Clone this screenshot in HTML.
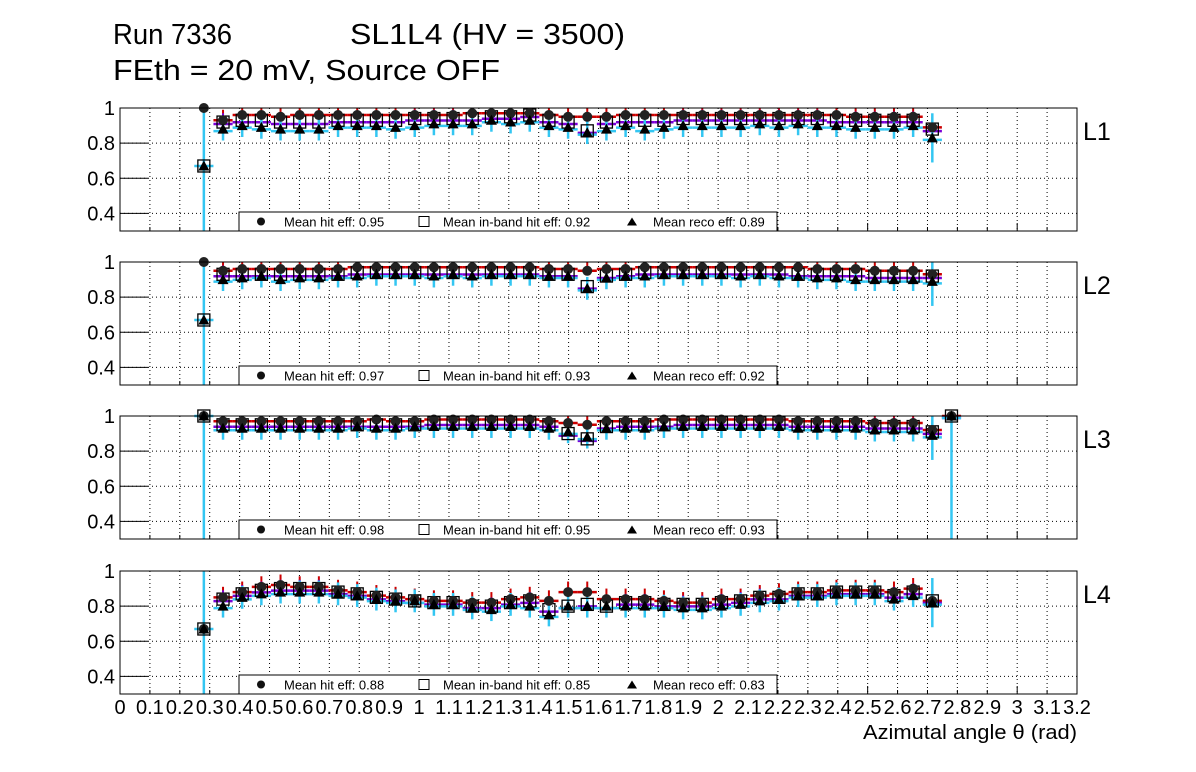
<!DOCTYPE html>
<html><head><meta charset="utf-8"><style>
body{margin:0;background:#fff;}
svg{display:block;font-family:"Liberation Sans",sans-serif;}
</style></head><body>
<svg id="c" width="1196" height="772" xmlns="http://www.w3.org/2000/svg">
<text x="113" y="44" font-size="29" textLength="119" lengthAdjust="spacingAndGlyphs">Run 7336</text>
<text x="350" y="44" font-size="29" textLength="275" lengthAdjust="spacingAndGlyphs">SL1L4 (HV = 3500)</text>
<text x="113" y="80" font-size="29" textLength="387" lengthAdjust="spacingAndGlyphs">FEth = 20 mV, Source OFF</text>
<text x="863" y="739" font-size="20" textLength="214" lengthAdjust="spacingAndGlyphs">Azimutal angle θ (rad)</text>
</svg>
<script>
const layers=["L1","L2","L3","L4"];
const meanHit=["0.95","0.97","0.98","0.88"];
const meanInband=["0.92","0.93","0.95","0.85"];
const meanReco=["0.89","0.92","0.93","0.83"];
const binStart=0.2804, binWidth=0.0641;
const hitL1=[1.0,.93,.96,.96,.95,.96,.96,.96,.96,.96,.96,.96,.96,.96,.97,.97,.97,.97,.96,.95,.95,.95,.96,.96,.96,.96,.96,.96,.96,.96,.96,.96,.96,.96,.95,.95,.95,.95,.89];
const inbL1=[.67,.92,.93,.93,.92,.92,.92,.93,.93,.93,.93,.94,.94,.94,.94,.95,.95,.96,.93,.92,.87,.92,.93,.93,.93,.94,.94,.94,.94,.94,.94,.94,.94,.93,.93,.93,.93,.93,.88];
const recL1=[.67,.88,.90,.89,.88,.88,.88,.90,.90,.90,.89,.90,.91,.91,.91,.93,.92,.93,.90,.89,.86,.88,.90,.88,.89,.90,.90,.90,.90,.91,.90,.91,.90,.90,.89,.89,.89,.90,.83];
const hitL2=[1.0,.95,.96,.96,.96,.96,.96,.96,.97,.97,.97,.97,.97,.97,.97,.97,.97,.97,.96,.96,.95,.96,.96,.97,.97,.97,.97,.97,.97,.97,.97,.97,.96,.96,.96,.95,.95,.95,.93];
const inbL2=[.67,.93,.93,.93,.93,.93,.93,.93,.94,.94,.94,.94,.94,.94,.94,.94,.94,.94,.93,.93,.86,.92,.93,.94,.94,.94,.94,.94,.94,.94,.94,.93,.93,.93,.93,.92,.92,.92,.92];
const recL2=[.67,.90,.91,.92,.90,.91,.91,.92,.92,.93,.93,.93,.92,.93,.92,.93,.93,.93,.92,.92,.85,.91,.92,.92,.93,.93,.93,.93,.92,.93,.92,.92,.91,.91,.90,.90,.90,.90,.89];
const hitL3=[1.0,.97,.97,.97,.97,.97,.97,.97,.97,.98,.97,.97,.98,.98,.98,.98,.98,.98,.97,.96,.95,.97,.97,.97,.98,.98,.98,.98,.98,.98,.98,.97,.97,.97,.97,.96,.96,.96,.92,1.0];
const inbL3=[1.0,.95,.95,.95,.95,.95,.95,.95,.95,.95,.95,.95,.96,.96,.96,.96,.96,.96,.95,.90,.87,.94,.95,.95,.95,.96,.96,.96,.96,.96,.96,.95,.95,.95,.95,.94,.94,.94,.91,1.0];
const recL3=[1.0,.93,.93,.93,.93,.93,.93,.93,.94,.93,.93,.94,.94,.94,.94,.94,.94,.94,.93,.91,.88,.93,.93,.93,.94,.94,.94,.94,.94,.94,.94,.93,.93,.93,.93,.92,.92,.92,.89,1.0];
const hitL4=[.67,.85,.88,.91,.92,.91,.91,.89,.88,.86,.85,.84,.83,.83,.82,.82,.84,.85,.83,.88,.88,.84,.84,.84,.83,.82,.82,.84,.84,.86,.87,.88,.88,.89,.89,.89,.88,.90,.83];
const inbL4=[.67,.84,.87,.89,.90,.90,.90,.88,.87,.85,.84,.83,.82,.82,.80,.80,.82,.83,.78,.80,.81,.80,.82,.82,.81,.81,.81,.82,.83,.85,.85,.87,.87,.88,.88,.88,.86,.88,.83];
const recL4=[.67,.80,.85,.87,.88,.88,.88,.87,.86,.84,.83,.83,.81,.81,.79,.78,.81,.80,.75,.80,.80,.80,.80,.80,.80,.79,.79,.80,.81,.83,.84,.86,.86,.87,.87,.87,.84,.86,.82];
const hitData=[hitL1,hitL2,hitL3,hitL4], inbData=[inbL1,inbL2,inbL3,inbL4], recData=[recL1,recL2,recL3,recL4];
const yTicks=[0.4,0.6,0.8,1];
const xTickLabels=["0","0.1","0.2","0.3","0.4","0.5","0.6","0.7","0.8","0.9","1","1.1","1.2","1.3","1.4","1.5","1.6","1.7","1.8","1.9","2","2.1","2.2","2.3","2.4","2.5","2.6","2.7","2.8","2.9","3","3.1","3.2"];

const NS="http://www.w3.org/2000/svg";
const svg=document.getElementById("c");
const X0=120,X1=1077,XMAX=3.2, panelTops=[108,262,416,571], PH=123, YMIN=0.3, YMAX=1.0;
const xs=v=>X0+v/XMAX*(X1-X0);
function mk(tag,at,parent){const e=document.createElementNS(NS,tag);for(const k in at)e.setAttribute(k,at[k]);(parent||svg).appendChild(e);return e;}

layers.forEach((L,p)=>{
  const top=panelTops[p], bot=top+PH;
  const ys=v=>bot-(v-YMIN)/(YMAX-YMIN)*PH;
  const g=mk("g",{});
  
  
  for(let i=1;i<32;i++){const x=xs(i*0.1);
    const gl=mk("line",{x1:x,x2:x,y1:top,y2:bot,stroke:"#000","stroke-width":1,"stroke-dasharray":"1,3"},g);
    }
  yTicks.forEach(t=>{const y=ys(t);
    const gl=mk("line",{x1:X0,x2:X1,y1:y,y2:y,stroke:"#000","stroke-width":1,"stroke-dasharray":"1,3"},g);
    
    mk("line",{x1:X0,x2:X0+28,y1:y,y2:y,stroke:"#000"},g);
    const tl=mk("text",{x:115,y:y+7,"font-size":20,"text-anchor":"end"},g);tl.textContent=String(t);
    });
  for(let i=0;i<=32;i++){const x=xs(i*0.1);mk("line",{x1:x,x2:x,y1:bot,y2:bot-(i%5==0?8:4),stroke:"#000"},g);}
  const series=[[hitData[p],"#cc0000",0],[inbData[p],"#7a00d6",2],[recData[p],"#33c6f2",2]];
  series.forEach(([arr,col,off])=>{
    arr.forEach((v,i)=>{if(i==0)return;const c=binStart+i*binWidth;
      const s=mk("line",{x1:xs(c-binWidth/2),x2:xs(c+binWidth/2),y1:ys(v)+off,y2:ys(v)+off,stroke:col,"stroke-width":2.5},g);
      });
  });
  const hit=hitData[p],inb=inbData[p],rec=recData[p];
  rec.forEach((v,i)=>{const c=binStart+i*binWidth,x=xs(c);
    const last=(i==rec.length-1||(p==2&&i==rec.length-2));
    let eR=(i==0||(p==2&&i==rec.length-1))?0.75:(last?0.14:0.065);
    const lo=Math.max(YMIN,v-eR),hi=Math.min(YMAX,v+eR);
    mk("line",{x1:x,x2:x,y1:ys(Math.min(YMAX,hit[i]+0.06)),y2:ys(hit[i]),stroke:"#cc0000","stroke-width":2},g);
    mk("line",{x1:x,x2:x,y1:ys(Math.min(YMAX,inb[i]+0.05)),y2:ys(inb[i]),stroke:"#7a00d6","stroke-width":2},g);
    mk("line",{x1:x,x2:x,y1:ys(hi),y2:ys(lo),stroke:"#33c6f2","stroke-width":2.5},g);
    if(i==0) mk("line",{x1:xs(c-binWidth/2),x2:xs(c+binWidth/2),y1:ys(v),y2:ys(v),stroke:"#33c6f2","stroke-width":2.5},g);
    const sq=mk("rect",{x:x-6,y:ys(inb[i])-6,width:12,height:12,fill:"none",stroke:"#000","stroke-width":1.3},g);
    
    const ci=mk("circle",{cx:x,cy:ys(hit[i]),r:5,fill:"#222"},g);
    
    const yt=ys(v);
    const tr=mk("polygon",{points:`${x-5.5},${yt+4.5} ${x+5.5},${yt+4.5} ${x},${yt-5.5}`,fill:"#000"},g);
    
  });
  mk("rect",{x:X0,y:top,width:X1-X0,height:PH,fill:"none",stroke:"#000","stroke-width":1},g);
  const lg=mk("g",{},g);
  
  mk("rect",{x:239,y:bot-19,width:538,height:19,fill:"#fff",stroke:"#000"},lg);
  const ly=bot-9.5;
  mk("circle",{cx:261,cy:ly,r:4,fill:"#111"},lg);
  mk("rect",{x:419,y:ly-5,width:10,height:10,fill:"none",stroke:"#000"},lg);
  mk("polygon",{points:`${627},${ly+4} ${637},${ly+4} ${632},${ly-4}`,fill:"#000"},lg);
  [[284,"Mean hit  eff: "+meanHit[p]],[443,"Mean in-band hit eff: "+meanInband[p]],[653,"Mean reco eff: "+meanReco[p]]].forEach(([x,t])=>{
    const tx=mk("text",{x:x,y:ly+5,"font-size":13,"xml:space":"preserve"},lg);tx.textContent=t;
    });
  const lt=mk("text",{x:1083,y:top+32,"font-size":25},g);lt.textContent=L;
  
});
xTickLabels.forEach((t,i)=>{
  const tx=mk("text",{x:xs(i*0.1),y:714,"font-size":20,"text-anchor":"middle"});tx.textContent=t;
  
});
</script>
</body></html>
